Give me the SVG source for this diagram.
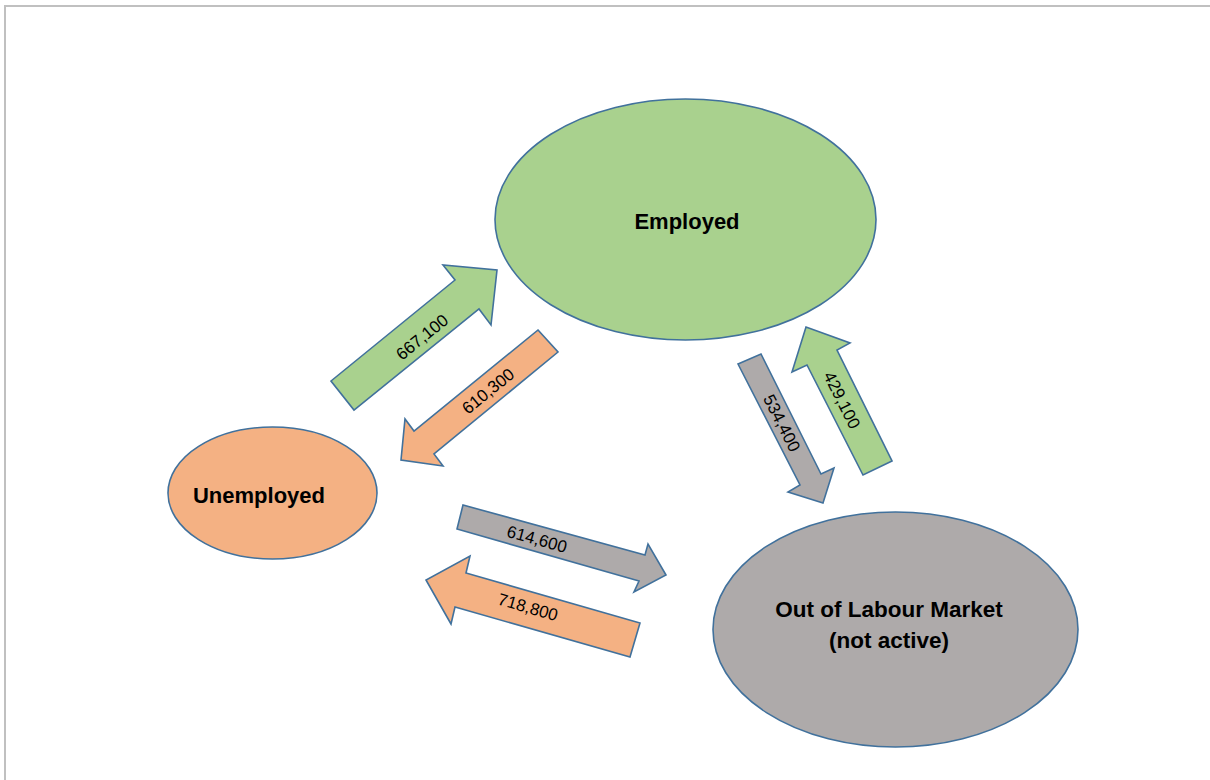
<svg xmlns="http://www.w3.org/2000/svg" width="1210" height="780" viewBox="0 0 1210 780">
<style>
.frame{fill:none;stroke:#c0c0c0;stroke-width:2}
.node{stroke:#41719c;stroke-width:1.6}
.green{fill:#a9d18e}
.orange{fill:#f4b183}
.grey{fill:#aeaaaa}
.arrow{stroke:#41719c;stroke-width:1.6;stroke-linejoin:miter}
.ntext{font-family:"Liberation Sans",Arial,sans-serif;font-weight:bold;font-size:22px;fill:#000;text-anchor:middle}
.wide{font-size:22.5px}
.ltext{font-family:"Liberation Sans",Arial,sans-serif;font-size:17px;fill:#000;text-anchor:middle}
</style>
<rect x="0" y="0" width="1210" height="780" fill="#ffffff"/>
<rect class="frame" x="5" y="6" width="1230" height="800"/>
<g id="connectors">
  <g id="flow-unemployed-employed">
    <polygon class="arrow green" points="331,381 455,280 443,265 497,270 491,325 479,309 354,410"/>
    <text class="ltext" transform="translate(422,337) rotate(-39.2)" dy="0.35em">667,100</text>
  </g>
  <g id="flow-employed-unemployed">
    <polygon class="arrow orange" points="538,330 558,352 434,454 443,466 401,460 405,419 414,431"/>
    <text class="ltext" transform="translate(488,391) rotate(-39.2)" dy="0.35em">610,300</text>
  </g>
  <g id="flow-employed-inactive">
    <polygon class="arrow grey" points="738,364 761,354 821,474 834,468 823,503 788,492 800,485"/>
    <text class="ltext" transform="translate(782,423) rotate(63)" dy="0.35em">534,400</text>
  </g>
  <g id="flow-inactive-employed">
    <polygon class="arrow green" points="892,461 863,475 807,365 792,372 806,327 850,343 837,350"/>
    <text class="ltext" transform="translate(842,400) rotate(63.5)" dy="0.35em">429,100</text>
  </g>
  <g id="flow-unemployed-inactive">
    <polygon class="arrow grey" points="463,505 457,529 639,581 634,592 666,575 648,544 645,555"/>
    <text class="ltext" transform="translate(537,539) rotate(15.4)" dy="0.35em">614,600</text>
  </g>
  <g id="flow-inactive-unemployed">
    <polygon class="arrow orange" points="640,623 630,657 455,607 451,624 426,580 470,556 466,573"/>
    <text class="ltext" transform="translate(528,607) rotate(16)" dy="0.35em">718,800</text>
  </g>
</g>
<g id="node-employed">
  <ellipse class="node green" cx="685.5" cy="219.5" rx="190.5" ry="120.5"/>
  <text class="ntext" x="687" y="229">Employed</text>
</g>
<g id="node-unemployed">
  <ellipse class="node orange" cx="272.5" cy="493" rx="104.5" ry="66"/>
  <text class="ntext" x="259" y="503">Unemployed</text>
</g>
<g id="node-inactive">
  <ellipse class="node grey" cx="895.5" cy="629.5" rx="182.5" ry="117.5"/>
  <text class="ntext wide" x="889" y="617">Out of Labour Market</text>
  <text class="ntext wide" x="889" y="648">(not active)</text>
</g>
</svg>
